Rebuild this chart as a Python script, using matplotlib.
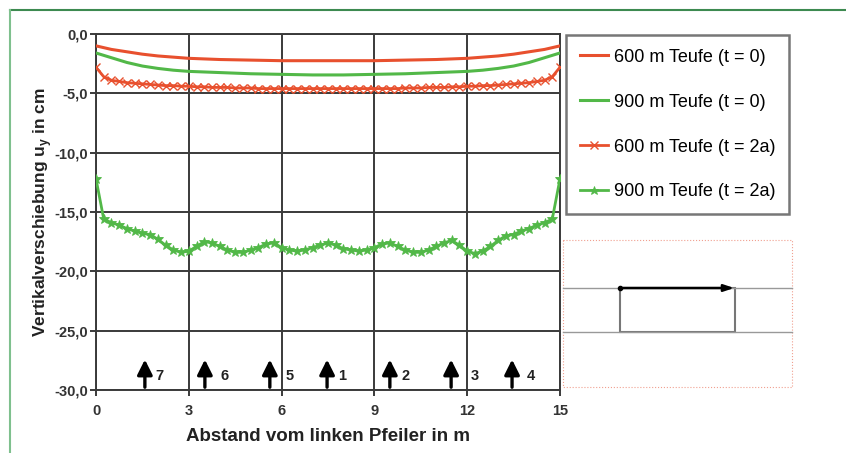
import numpy as np
import matplotlib
matplotlib.use("Agg")
import matplotlib.pyplot as plt
from matplotlib.patches import Rectangle

plt.rcParams['font.family'] = ['Liberation Sans', 'DejaVu Sans']

# ---------------- data ----------------
x_t0 = [0, 0.5, 1, 1.5, 2, 2.5, 3, 4, 5, 6, 7, 7.5, 8, 9, 10, 11, 12, 12.5, 13, 13.5, 14, 14.5, 15]
y600_t0 = [-1.0, -1.3, -1.5, -1.7, -1.85, -1.95, -2.05, -2.15, -2.2, -2.25, -2.25, -2.25,
           -2.25, -2.25, -2.2, -2.15, -2.05, -1.95, -1.85, -1.7, -1.5, -1.3, -1.0]
y900_t0 = [-1.6, -2.0, -2.4, -2.7, -2.9, -3.05, -3.15, -3.25, -3.35, -3.4, -3.45, -3.45,
           -3.45, -3.4, -3.35, -3.25, -3.15, -3.05, -2.9, -2.7, -2.4, -2.0, -1.6]

x_t2 = [i * 0.25 for i in range(61)]
y600_t2 = [-2.8, -3.6, -3.9, -4.0, -4.1, -4.15, -4.2, -4.25, -4.3, -4.35, -4.35, -4.4,
           -4.4, -4.45, -4.45, -4.5, -4.5, -4.5, -4.55, -4.55, -4.55, -4.6, -4.6, -4.6,
           -4.6, -4.6, -4.6, -4.6, -4.6, -4.6, -4.6, -4.6, -4.6, -4.6, -4.6, -4.6,
           -4.6, -4.6, -4.6, -4.6, -4.55, -4.55, -4.55, -4.5, -4.5, -4.5, -4.45, -4.45,
           -4.4, -4.4, -4.35, -4.35, -4.3, -4.25, -4.2, -4.15, -4.1, -4.0, -3.9, -3.6, -2.8]
y900_t2 = [-12.2, -15.6, -15.9, -16.1, -16.4, -16.6, -16.8, -16.9, -17.3, -17.8, -18.2, -18.4,
           -18.3, -17.9, -17.5, -17.6, -17.9, -18.2, -18.4, -18.4, -18.2, -18.0, -17.7, -17.6,
           -18.0, -18.2, -18.3, -18.2, -18.0, -17.8, -17.6, -17.8, -18.1, -18.2, -18.3, -18.2,
           -18.0, -17.7, -17.6, -17.9, -18.2, -18.4, -18.4, -18.2, -17.9, -17.6, -17.4, -17.8,
           -18.3, -18.5, -18.3, -17.9, -17.4, -17.0, -16.9, -16.6, -16.4, -16.1, -15.9, -15.6, -12.2]

arrow_x = [1.58, 3.52, 5.62, 7.47, 9.5, 11.48, 13.45]
arrow_labels = ['7', '6', '5', '1', '2', '3', '4']
arrow_label_x = [2.05, 4.15, 6.25, 7.95, 10.0, 12.25, 14.05]

labels = ['600 m Teufe (t = 0)', '900 m Teufe (t = 0)', '600 m Teufe (t = 2a)', '900 m Teufe (t = 2a)']
xticks = [0, 3, 6, 9, 12, 15]
yticks = [0, -5, -10, -15, -20, -25, -30]
ytick_labels = ['0,0', '-5,0', '-10,0', '-15,0', '-20,0', '-25,0', '-30,0']

RED = '#e8502e'
GREEN = '#52b848'

# ---------------- figure ----------------
W, H = 846, 453
fig = plt.figure(figsize=(W / 100, H / 100), dpi=100)
fig.patch.set_facecolor('white')

ax = fig.add_axes([96 / W, 1 - 390 / H, (560 - 96) / W, (390 - 34) / H])
ax.plot(x_t0, y600_t0, color=RED, lw=2.2, label=labels[0], zorder=4)
ax.plot(x_t0, y900_t0, color=GREEN, lw=2.2, label=labels[1], zorder=4)
ax.plot(x_t2, y600_t2, color=RED, lw=2.0, marker='x', ms=6, mew=1.0, label=labels[2], zorder=4)
ax.plot(x_t2, y900_t2, color=GREEN, lw=2.0, marker='*', ms=7, mew=0.6, label=labels[3], zorder=4)

ax.set_xlim(0, 15)
ax.set_ylim(-30, 0)
ax.set_xticks(xticks)
ax.set_xticklabels([str(t) for t in xticks], fontsize=10.5, fontweight='bold', color='#333333')
ax.set_yticks(yticks)
ax.set_yticklabels(ytick_labels, fontsize=10.5, fontweight='bold', color='#333333')
ax.grid(True, color='#3a3a3a', lw=1.4, zorder=1)
ax.set_axisbelow(True)
for s in ax.spines.values():
    s.set_color('#3a3a3a')
    s.set_linewidth(1.4)
ax.tick_params(axis='x', length=4, width=1.4, color='#3a3a3a', pad=6)
ax.tick_params(axis='y', length=4, width=1.4, color='#3a3a3a', pad=2)

ax.set_xlabel('Abstand vom linken Pfeiler in m', fontsize=13.5, fontweight='bold', color='#222222', labelpad=7)
ax.set_ylabel('Vertikalverschiebung u$_\\mathregular{y}$ in cm', fontsize=12.5, fontweight='bold', color='#222222', labelpad=0)

for xa, lab, xl in zip(arrow_x, arrow_labels, arrow_label_x):
    ax.annotate('', xy=(xa, -27.2), xytext=(xa, -30),
                arrowprops=dict(arrowstyle='-|>,head_width=0.45,head_length=0.9', color='black', lw=2.4),
                zorder=5)
    ax.text(xl, -28.85, lab, fontsize=10.5, fontweight='bold', ha='center', va='center', color='#222222')

leg = fig.legend(loc='upper left', bbox_to_anchor=(566 / W, 1 - 35 / H), bbox_transform=fig.transFigure,
                 fontsize=13, frameon=True, fancybox=False, edgecolor='#555555',
                 handlelength=1.6, handletextpad=0.3, labelspacing=1.55, borderpad=0.75, borderaxespad=0,
                 markerscale=0.9)
leg.get_frame().set_linewidth(1.8)

# overlay for schematic and frame
ov = fig.add_axes([0, 0, 1, 1], zorder=-1)
ov.set_xlim(0, W)
ov.set_ylim(H, 0)
ov.axis('off')
ov.patch.set_alpha(0)
ov.plot([10, W], [10, 10], color='#3d8a50', lw=1.5)
ov.plot([10, 10], [10, H], color='#7fc08e', lw=1.5)
ov.add_patch(Rectangle((563, 240), 229, 147, fill=False, edgecolor='#f0a090', lw=0.8, ls=':'))
ov.plot([563, 792], [288, 288], color='#999999', lw=1.0)
ov.plot([563, 792], [332, 332], color='#999999', lw=1.0)
ov.add_patch(Rectangle((620, 288), 115, 44, fill=False, edgecolor='#777777', lw=1.5))
ov.annotate('', xy=(737, 288), xytext=(620, 288),
            arrowprops=dict(arrowstyle='-|>,head_width=0.2,head_length=0.6', color='black', lw=1.8))
ov.plot([620], [288], marker='o', ms=3, color='black')

fig.savefig('out.png', dpi=100)
